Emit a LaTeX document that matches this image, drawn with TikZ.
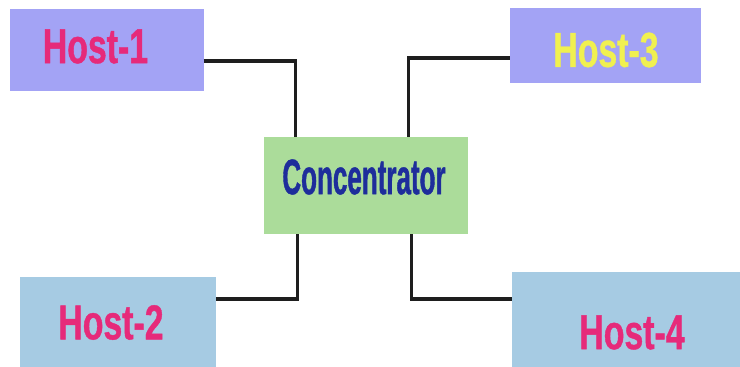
\documentclass[tikz,border=0pt]{standalone}
\usepackage{fontspec}
\newfontfamily\hostfont[FakeStretch=0.69,FakeBold=0.8]{Liberation Sans}
\newfontfamily\concfont[FakeStretch=0.52,FakeBold=0.8]{Liberation Sans}

\definecolor{lavbox}{RGB}{163,163,245}
\definecolor{bluebox}{RGB}{166,203,227}
\definecolor{greenbox}{RGB}{171,220,154}
\definecolor{pinktxt}{RGB}{230,42,122}
\definecolor{yellowtxt}{RGB}{240,240,80}
\definecolor{bluetxt}{RGB}{30,45,155}
\definecolor{wireclr}{RGB}{30,30,30}

\begin{document}
\begin{tikzpicture}[x=1pt,y=-1pt,
  box/.style={draw=none, inner sep=0pt},
  hosttxt/.style={inner sep=0pt, font=\hostfont\bfseries\fontsize{49}{52}\selectfont},
  conctxt/.style={inner sep=0pt, text=bluetxt, font=\concfont\bfseries\fontsize{50}{54}\selectfont},
  wire/.style={draw=wireclr, line width=3.2pt}]
\useasboundingbox[fill=white] (0,0) rectangle (740,367);

% boxes
\node[box, fill=lavbox, minimum width=194pt, minimum height=82pt] (h1) at (106.5,50) {};
\node[box, fill=lavbox, minimum width=191pt, minimum height=75pt] (h3) at (605.5,45.5) {};
\node[box, fill=bluebox, minimum width=196pt, minimum height=91pt] (h2) at (118,322.5) {};
\node[box, fill=bluebox, minimum width=240pt, minimum height=121pt] (h4) at (632,332.5) {};
\node[box, fill=greenbox, minimum width=204pt, minimum height=97pt] (conc) at (366,185.5) {};

% labels
\node[hosttxt, text=pinktxt] (h1t) at (95.5,46.5) {Host-1};
\node[hosttxt, text=yellowtxt] (h3t) at (606,50) {Host-3};
\node[hosttxt, text=pinktxt] (h2t) at (111,322.5) {Host-2};
\node[hosttxt, text=pinktxt] (h4t) at (632,332.5) {Host-4};
\node[conctxt] (conct) at (364,177) {Concentrator};

% wires
\draw[wire] ([yshift=-11pt]h1.east) -| ([xshift=32pt]conc.north west);
\draw[wire] ([yshift=-12.5pt]h3.west) -| ([xshift=-60pt]conc.north east);
\draw[wire] ([yshift=23.5pt]h2.east) -| ([xshift=34pt]conc.south west);
\draw[wire] ([yshift=33.5pt]h4.west) -| ([xshift=-57pt]conc.south east);
\end{tikzpicture}
\end{document}
